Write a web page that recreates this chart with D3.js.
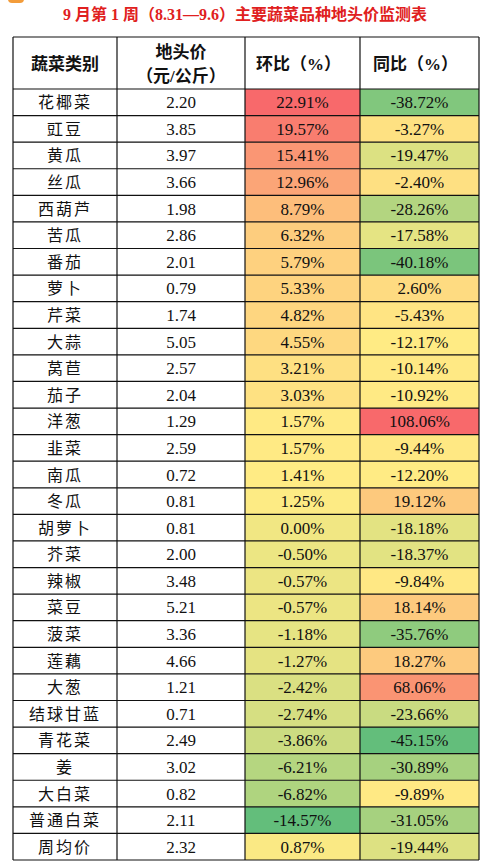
<!DOCTYPE html><html><head><meta charset="utf-8"><script src="https://d3js.org/d3.v7.min.js"></script>
<style>body{margin:0;background:#fff}</style></head><body><svg id="c" width="490" height="868"></svg>
<script>
const names=["花椰菜","豇豆","黄瓜","丝瓜","西葫芦","苦瓜","番茄","萝卜","芹菜","大蒜","莴苣","茄子","洋葱","韭菜","南瓜","冬瓜","胡萝卜","芥菜","辣椒","菜豆","菠菜","莲藕","大葱","结球甘蓝","青花菜","姜","大白菜","普通白菜","周均价"];
const prices=["2.20","3.85","3.97","3.66","1.98","2.86","2.01","0.79","1.74","5.05","2.57","2.04","1.29","2.59","0.72","0.81","0.81","2.00","3.48","5.21","3.36","4.66","1.21","0.71","2.49","3.02","0.82","2.11","2.32"];
const mom=[22.91,19.57,15.41,12.96,8.79,6.32,5.79,5.33,4.82,4.55,3.21,3.03,1.57,1.57,1.41,1.25,0.00,-0.50,-0.57,-0.57,-1.18,-1.27,-2.42,-2.74,-3.86,-6.21,-6.82,-14.57,0.87];
const yoy=[-38.72,-3.27,-19.47,-2.40,-28.26,-17.58,-40.18,2.60,-5.43,-12.17,-10.14,-10.92,108.06,-9.44,-12.20,19.12,-18.18,-18.37,-9.84,18.14,-35.76,18.27,68.06,-23.66,-45.15,-30.89,-9.89,-31.05,-19.44];
const headers=[["蔬菜类别"],["地头价","（元/公斤）"],["环比（%）"],["同比（%）"]];
const svg=d3.select("#c");
svg.append("rect").attr("x",8).attr("y",-6).attr("width",16).attr("height",9).attr("rx",4).attr("fill","#f39c3a");
svg.append("text").attr("x",245).attr("y",20).attr("text-anchor","middle").attr("fill","#e02020")
 .attr("font-family","Liberation Serif, Noto Sans CJK SC").attr("font-weight","bold").attr("font-size",16)
 .text("9 月第 1 周（8.31—9.6）主要蔬菜品种地头价监测表");
const colX=[13,117,245,360,479];
const tableTop=37,headH=52,y0=tableTop+headH;
const y=d3.scaleBand().domain(d3.range(names.length)).range([y0,860]);
function cs(vals){const ext=d3.extent(vals),m=d3.median(vals);
 return d3.scaleLinear().domain([ext[0],m,ext[1]]).range(["#63be7b","#ffeb84","#f8696b"]).interpolate(d3.interpolateRgb);}
const cm=cs(mom),cy=cs(yoy);
const g=svg.append("g");
names.forEach((n,i)=>{
 g.append("rect").attr("x",colX[2]).attr("y",y(i)).attr("width",colX[3]-colX[2]).attr("height",y.bandwidth()).attr("fill",cm(mom[i]));
 g.append("rect").attr("x",colX[3]).attr("y",y(i)).attr("width",colX[4]-colX[3]).attr("height",y.bandwidth()).attr("fill",cy(yoy[i]));
 const cells=[n,prices[i],mom[i].toFixed(2)+"%",yoy[i].toFixed(2)+"%"];
 cells.forEach((t,j)=>{
  g.append("text").attr("x",(colX[j]+colX[j+1])/2).attr("y",y(i)+y.bandwidth()/2+6).attr("text-anchor","middle")
   .attr("font-family",j==0?"Noto Sans CJK SC":"Liberation Serif").attr("font-size",j==0?16:17)
   .attr("letter-spacing",j==0?2:0).attr("fill","#111").text(t);
 });
});
headers.forEach((h,j)=>{
 h.forEach((t,k)=>{
  g.append("text").attr("x",(colX[j]+colX[j+1])/2+(j>=2?-4:0)).attr("y",h.length==1?tableTop+33:tableTop+21+k*24).attr("text-anchor","middle")
   .attr("font-family","Liberation Serif, Noto Sans CJK SC").attr("font-weight","bold").attr("font-size",17).attr("fill","#111").text(t);
 });
});
const L=g.append("g").attr("stroke","#111").attr("stroke-width",1.2);
[tableTop,...names.map((d,i)=>y(i)),860].forEach(v=>L.append("line").attr("x1",13).attr("x2",479).attr("y1",v).attr("y2",v));
colX.forEach(v=>L.append("line").attr("x1",v).attr("x2",v).attr("y1",tableTop).attr("y2",860));
</script></body></html>
